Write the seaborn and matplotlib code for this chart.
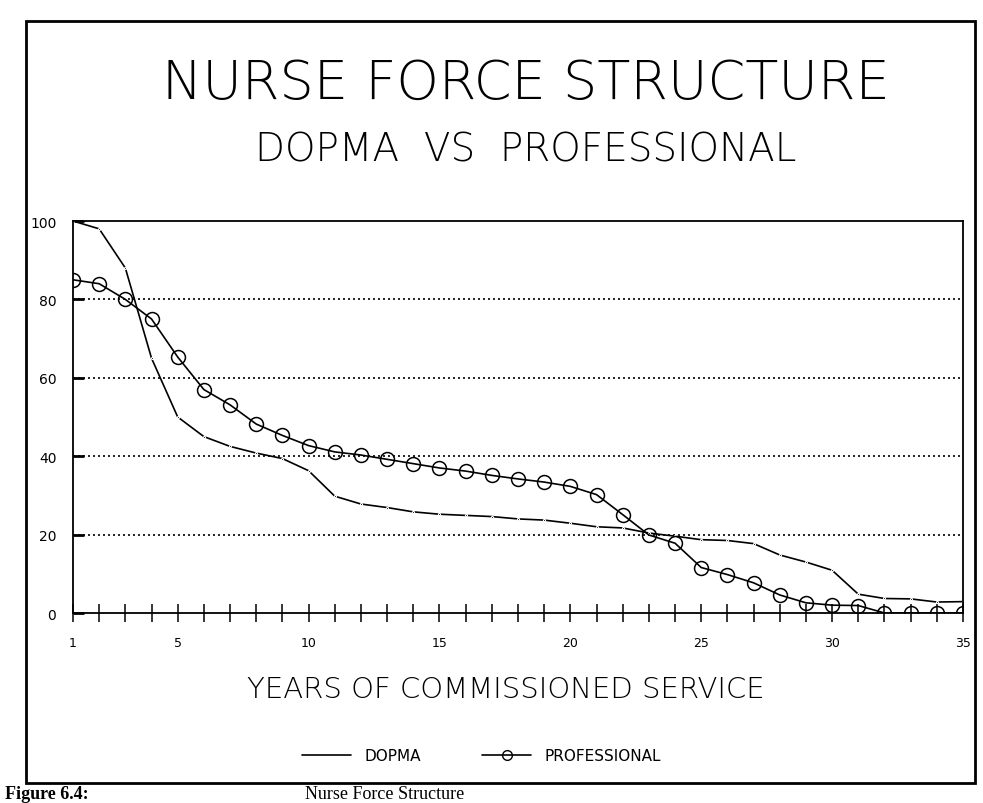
import matplotlib
matplotlib.use("Agg")
import matplotlib.pyplot as plt
import seaborn as sns
import pandas as pd
from matplotlib.lines import Line2D
from matplotlib.patches import Rectangle

years = list(range(1, 36))
dopma = [100, 98, 88, 65, 50, 45, 42.5, 40.8, 39.4, 36.3, 29.8, 27.8, 26.9, 25.8,
         25.2, 24.9, 24.6, 24.0, 23.7, 22.9, 22.0, 21.7, 20.4, 19.6, 18.7, 18.5,
         17.7, 14.8, 13.0, 10.9, 4.8, 3.7, 3.6, 2.8, 2.9]
professional = [85, 84, 80, 75, 65.3, 57, 53.1, 48.2, 45.3, 42.7, 41.1, 40.3, 39.2,
                38.1, 37.0, 36.2, 35.1, 34.2, 33.4, 32.3, 30.2, 25.1, 19.9, 17.8,
                11.6, 9.8, 7.7, 4.6, 2.6, 2.0, 1.9, 0, 0, 0, 0]
x_ticklabels = ["1", "5", "10", "15", "20", "25", "30", "35"]
x_labelpos = [1, 5, 10, 15, 20, 25, 30, 35]
y_ticks = [0, 20, 40, 60, 80, 100]

sns.set_theme(style="white", rc={"text.color": "black", "axes.labelcolor": "black",
                                 "xtick.color": "black", "ytick.color": "black"})
plt.rcParams['font.family'] = ['DejaVu Sans']

df = pd.DataFrame({"year": years, "DOPMA": dopma, "PROFESSIONAL": professional})

fig = plt.figure(figsize=(9.83, 8.04), dpi=100)
ax = fig.add_axes([73/983, 1 - 614/804, (963-73)/983, (614-222)/804])

sns.lineplot(data=df, x="year", y="DOPMA", ax=ax, color="black", lw=1.2,
             marker=".", markersize=3, legend=False)
sns.lineplot(data=df, x="year", y="PROFESSIONAL", ax=ax, color="black", lw=1.2,
             marker="o", markersize=10, markerfacecolor="none",
             markeredgecolor="black", markeredgewidth=1.1, legend=False)

ax.set_xlim(1, 35)
ax.set_ylim(0, 100)
for v in [20, 40, 60, 80]:
    ax.axhline(v, color="black", lw=1.2, ls=(0, (1.2, 1.8)), zorder=0)

for s in ax.spines.values():
    s.set_visible(True)
    s.set_color("black")
    s.set_linewidth(1.3)

ax.set_xticks(years)
ax.set_xticklabels([str(y) if y in x_labelpos else "" for y in years], fontsize=9)
ax.set_yticks(y_ticks)
ax.set_yticklabels([str(v) for v in y_ticks], fontsize=10)
ax.tick_params(axis="x", direction="inout", length=13, width=1.1, color="black",
               labelcolor="black", bottom=True, pad=10)
ax.tick_params(axis="y", direction="in", length=8, width=2, color="black",
               labelcolor="black", left=True, pad=12)
ax.set_xlabel("")
ax.set_ylabel("")

fig.text(0.535, 0.895, "NURSE FORCE STRUCTURE", ha="center", va="center",
         fontsize=39, fontweight="light", color="black")
fig.text(0.535, 0.813, "DOPMA  VS  PROFESSIONAL", ha="center", va="center",
         fontsize=28, fontweight="light", color="black")
fig.text(0.515, 1 - 690/804, "YEARS OF COMMISSIONED SERVICE", ha="center", va="center",
         fontsize=21, fontweight="light", color="black")

handles = [Line2D([], [], color="black", lw=1.2),
           Line2D([], [], color="black", lw=1.2, marker="o", markersize=7,
                  markerfacecolor="none", markeredgecolor="black")]
fig.legend(handles, ["DOPMA", "PROFESSIONAL"], loc="center",
           bbox_to_anchor=(0.49, 1 - 757/804), ncol=2, frameon=False,
           fontsize=11, handlelength=3.2, columnspacing=4, handletextpad=0.9)

fig.patches.append(Rectangle((26/983, 1 - 784/804), (975-26)/983, (784-22)/804,
                             transform=fig.transFigure, fill=False,
                             edgecolor="black", lw=2))

fig.text(0.005, 1 - 799/804, "Figure 6.4:", ha="left", va="baseline", fontsize=13,
         fontweight="bold", family=["Liberation Serif", "DejaVu Serif"])
fig.text(0.31, 1 - 799/804, "Nurse Force Structure", ha="left", va="baseline",
         fontsize=13, family=["Liberation Serif", "DejaVu Serif"])

fig.savefig("out.png", dpi=100)
